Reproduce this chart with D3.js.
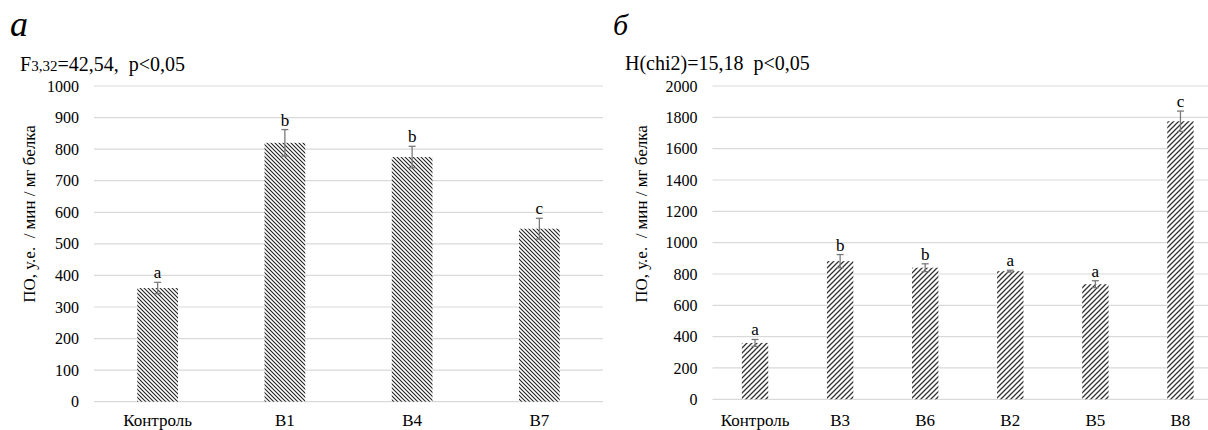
<!DOCTYPE html>
<html><head><meta charset="utf-8">
<script src="https://cdn.jsdelivr.net/npm/d3@7"></script>
<style>body{margin:0;background:#fff}svg{display:block}</style>
</head><body><svg id="c" width="1208" height="430"></svg>
<script>
// Panel a
const catsA = ["Контроль","B1","B4","B7"];
const valsA = [360, 820, 775, 548];
const errsA = [18, 42, 34, 33];
const lettersA = ["a","b","b","c"];
const ticksA = [0,100,200,300,400,500,600,700,800,900,1000];
// Panel б
const catsB = ["Контроль","B3","B6","B2","B5","B8"];
const valsB = [360, 882, 840, 818, 735, 1775];
const errsB = [22, 42, 25, 6, 22, 65];
const lettersB = ["a","b","b","a","a","c"];
const ticksB = [0,200,400,600,800,1000,1200,1400,1600,1800,2000];

const FONT = '"Liberation Serif"';
const svg = d3.select("#c");
const defs = svg.append("defs");
const pA = defs.append("pattern").attr("id","hatchA").attr("patternUnits","userSpaceOnUse").attr("width",4).attr("height",4);
pA.append("rect").attr("width",4).attr("height",4).attr("fill","#fff");
pA.append("path").attr("d","M-1,-1L5,5M-1,3L1,5M3,-1L5,1").attr("stroke","#222").attr("stroke-width",1.1);
const pB = defs.append("pattern").attr("id","hatchB").attr("patternUnits","userSpaceOnUse").attr("width",5).attr("height",5);
pB.append("rect").attr("width",5).attr("height",5).attr("fill","#fff");
pB.append("path").attr("d","M-1,6L6,-1M-1,1L1,-1M4,6L6,4").attr("stroke","#333").attr("stroke-width",1.3);

function txt(sel){ return sel.style("font-family",FONT).attr("fill","#000"); }

function panel(o){
  const g = svg.append("g");
  const x = d3.scaleBand().domain(o.cats).range(o.xr).padding(0);
  const y = d3.scaleLinear().domain(o.yd).range(o.yr);
  g.selectAll(".grid").data(o.ticks).join("line")
    .attr("x1",o.xr[0]).attr("x2",o.xr[1]).attr("y1",d=>y(d)).attr("y2",d=>y(d))
    .attr("stroke","#d9d9d9").attr("stroke-width",1.2);
  txt(g.selectAll(".tl").data(o.ticks).join("text"))
    .attr("x",o.xr[0]-15).attr("y",d=>y(d)).attr("dy","0.35em").attr("text-anchor","end")
    .attr("font-size",16).text(d=>d);
  const bw = x.bandwidth()*o.bwr;
  const cx = d=>x(d)+x.bandwidth()/2;
  g.selectAll(".bar").data(o.vals).join("rect")
    .attr("x",(d,i)=>cx(o.cats[i])-bw/2).attr("width",bw)
    .attr("y",d=>y(d)).attr("height",d=>y(0)-y(d)).attr("fill",o.fill);
  const eg = g.append("g").attr("stroke","#7a7a7a").attr("stroke-width",1.3);
  o.vals.forEach((v,i)=>{
    const c = cx(o.cats[i]), e = o.errs[i];
    eg.append("line").attr("x1",c).attr("x2",c).attr("y1",y(v+e)).attr("y2",y(v-e));
    eg.append("line").attr("x1",c-3.5).attr("x2",c+3.5).attr("y1",y(v+e)).attr("y2",y(v+e));
    eg.append("line").attr("x1",c-3.5).attr("x2",c+3.5).attr("y1",y(v-e)).attr("y2",y(v-e));
  });
  txt(g.selectAll(".lt").data(o.letters).join("text"))
    .attr("x",(d,i)=>cx(o.cats[i])).attr("y",(d,i)=>y(o.vals[i]+o.errs[i])-4)
    .attr("text-anchor","middle").attr("font-size",17).text(d=>d);
  txt(g.selectAll(".cl").data(o.cats).join("text"))
    .attr("x",d=>cx(d)).attr("y",426).attr("text-anchor","middle").attr("font-size",17).text(d=>d);
  txt(g.append("text")).attr("transform",`translate(${o.titleX},${o.titleY}) rotate(-90)`)
    .attr("text-anchor","middle").attr("font-size",17).attr("xml:space","preserve")
    .text("ПО, у.е.  / мин / мг белка");
}

panel({cats:catsA, vals:valsA, errs:errsA, letters:lettersA, ticks:ticksA,
  xr:[94,603], yd:[0,1000], yr:[401.7,86], bwr:0.32, fill:"url(#hatchA)", titleX:35, titleY:214});
panel({cats:catsB, vals:valsB, errs:errsB, letters:lettersB, ticks:ticksB,
  xr:[712.5,1223], yd:[0,2000], yr:[399.3,86], bwr:0.31, fill:"url(#hatchB)", titleX:647, titleY:214});

txt(svg.append("text")).attr("x",10).attr("y",36).attr("font-size",36).attr("font-style","italic").text("а");
txt(svg.append("text")).attr("x",613).attr("y",35).attr("font-size",30).attr("font-style","italic").text("б");
const tA = txt(svg.append("text")).attr("x",20).attr("y",71).attr("font-size",20).attr("xml:space","preserve");
tA.append("tspan").text("F");
tA.append("tspan").attr("font-size",15).text("3,32");
tA.append("tspan").text("=42,54,  p<0,05");
txt(svg.append("text")).attr("x",625).attr("y",70).attr("font-size",20).attr("xml:space","preserve").text("H(chi2)=15,18  p<0,05");
</script></body></html>
